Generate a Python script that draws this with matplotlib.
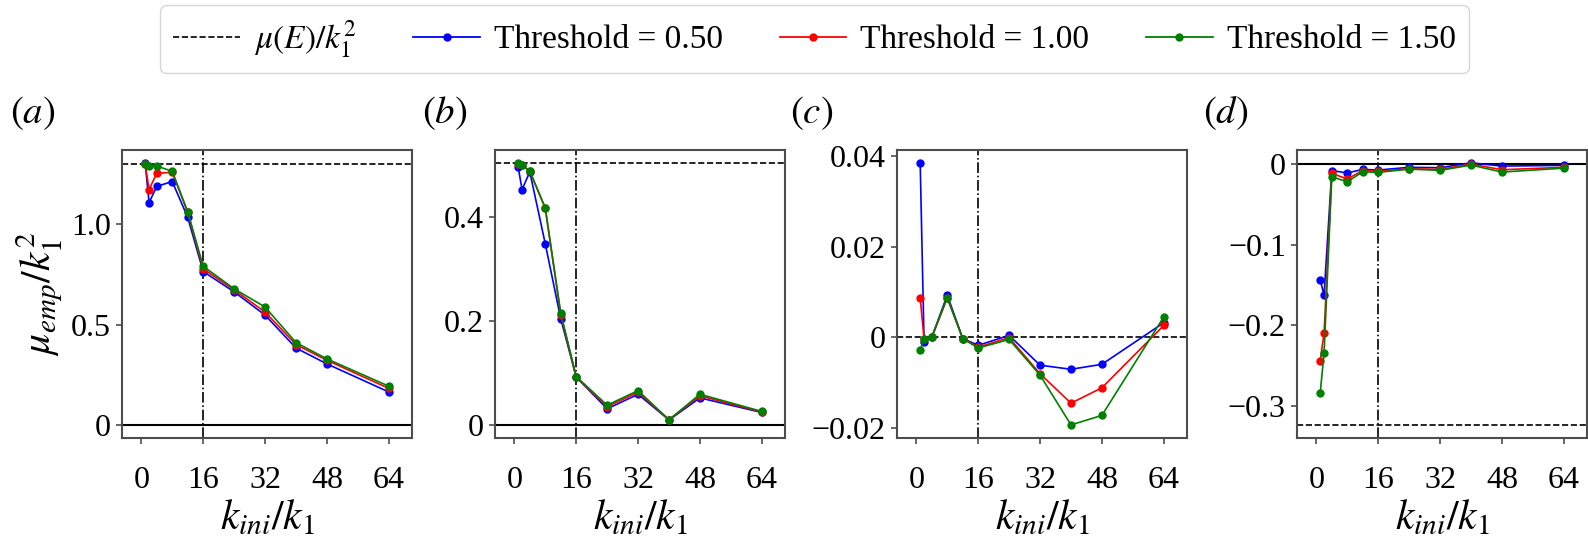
import matplotlib
matplotlib.use("Agg")
import matplotlib.pyplot as plt
from matplotlib.lines import Line2D

plt.rcParams['font.family'] = ['Liberation Serif', 'DejaVu Serif']
plt.rcParams['mathtext.fontset'] = 'stix'

# ---- data ----
k_ini = [1, 2, 4, 8, 12, 16, 24, 32, 40, 48, 64]
thresholds = ['0.50', '1.00', '1.50']
colors = ['blue', 'red', 'green']

mu_E = [1.30, 0.503, 0.0, -0.3235]

a_vals = [
    [1.304, 1.107, 1.188, 1.212, 1.033, 0.764, 0.663, 0.547, 0.383, 0.304, 0.164],
    [1.300, 1.172, 1.253, 1.258, 1.058, 0.777, 0.673, 0.562, 0.400, 0.322, 0.182],
    [1.299, 1.289, 1.289, 1.263, 1.061, 0.790, 0.678, 0.587, 0.410, 0.329, 0.193],
]
b_vals = [
    [0.495, 0.452, 0.486, 0.348, 0.204, 0.092, 0.031, 0.059, 0.0096, 0.052, 0.024],
    [0.502, 0.499, 0.487, 0.416, 0.212, 0.092, 0.035, 0.063, 0.010, 0.056, 0.025],
    [0.503, 0.500, 0.4875, 0.417, 0.215, 0.093, 0.038, 0.066, 0.010, 0.059, 0.026],
]
c_vals = [
    [0.0385, -0.001, 0.0, 0.0093, -0.0003, -0.0018, 0.0004, -0.0062, -0.0071, -0.0060, 0.0032],
    [0.0087, -0.0004, 0.0, 0.0087, -0.0003, -0.0022, -0.0001, -0.0081, -0.0146, -0.0112, 0.0026],
    [-0.0028, -0.0005, 0.0, 0.0087, -0.0003, -0.0024, -0.0005, -0.0084, -0.0194, -0.0173, 0.0045],
]
d_vals = [
    [-0.1434, -0.163, -0.008, -0.011, -0.0066, -0.0074, -0.004, -0.0045, 0.0016, -0.0025, -0.0016],
    [-0.244, -0.210, -0.0115, -0.0185, -0.008, -0.009, -0.0058, -0.0066, 0.0, -0.007, -0.004],
    [-0.284, -0.235, -0.0157, -0.022, -0.0095, -0.0103, -0.0062, -0.0078, -0.0012, -0.0099, -0.005],
]

x_ticks = [0, 16, 32, 48, 64]
y_ticks = [
    [0, 0.5, 1.0],
    [0, 0.2, 0.4],
    [-0.02, 0, 0.02, 0.04],
    [-0.3, -0.2, -0.1, 0],
]
y_ticklabels = [
    ['0', '0.5', '1.0'],
    ['0', '0.2', '0.4'],
    ['\u22120.02', '0', '0.02', '0.04'],
    ['\u22120.3', '\u22120.2', '\u22120.1', '0'],
]
y_lims = [(-0.065, 1.369), (-0.025, 0.528), (-0.0223, 0.0414), (-0.340, 0.0175)]
panel_labels = ['$(a)$', '$(b)$', '$(c)$', '$(d)$']

W, H = 1588, 543
fig = plt.figure(figsize=(W / 100, H / 100), dpi=100)

ax_left_px = [122, 495, 897, 1297]
ax_w_px, ax_top_px, ax_bot_px = 290, 150, 438
label_x_px = [10, 422, 790, 1203]
label_y_px = 113

all_vals = [a_vals, b_vals, c_vals, d_vals]
spine_col = '#4d4d4d'
for i in range(4):
    ax = fig.add_axes([ax_left_px[i] / W, 1 - ax_bot_px / H,
                       ax_w_px / W, (ax_bot_px - ax_top_px) / H])
    if mu_E[i] != 0:
        ax.axhline(0, color='black', lw=1.5, zorder=1)
    ax.axhline(mu_E[i], color='black', ls='--', lw=1.2, zorder=1)
    ax.axvline(16, color='black', ls='-.', lw=1.2, zorder=1)
    for vals, col in zip(all_vals[i], colors):
        ax.plot(k_ini, vals, '-o', color=col, lw=1.2, ms=5, zorder=3)
    ax.set_xlim(-5, 70)
    ax.set_ylim(*y_lims[i])
    ax.set_xticks(x_ticks)
    ax.set_xticklabels([str(t) for t in x_ticks])
    ax.set_yticks(y_ticks[i])
    ax.set_yticklabels(y_ticklabels[i])
    ax.tick_params(labelsize=23, color=spine_col, length=4, width=1.2)
    ax.tick_params(axis='x', pad=16)
    ax.tick_params(axis='y', pad=4)
    for s in ax.spines.values():
        s.set_color(spine_col)
        s.set_linewidth(1.5)
    ax.set_xlabel('$k_{ini}/k_1$', fontsize=30, labelpad=3)
    if i == 0:
        ax.set_ylabel('$\\mu_{emp}/k_1^2$', fontsize=30, labelpad=4)
    fig.text(label_x_px[i] / W, 1 - label_y_px / H, panel_labels[i],
             fontsize=28, ha='left', va='center')

handles = [Line2D([], [], color='black', ls='--', lw=1.2)]
labels = ['$\\mu(E)/k_1^2$']
for t, col in zip(thresholds, colors):
    handles.append(Line2D([], [], color=col, marker='o', lw=1.3, ms=5))
    labels.append('Threshold = ' + t)
fig.legend(handles, labels, loc='upper center', bbox_to_anchor=(814.5 / W, 1 - 5 / H),
           borderaxespad=0, ncol=4, fontsize=24, frameon=True,
           handlelength=2.0, handletextpad=0.42, columnspacing=1.7)

fig.savefig('out.png', dpi=100)
